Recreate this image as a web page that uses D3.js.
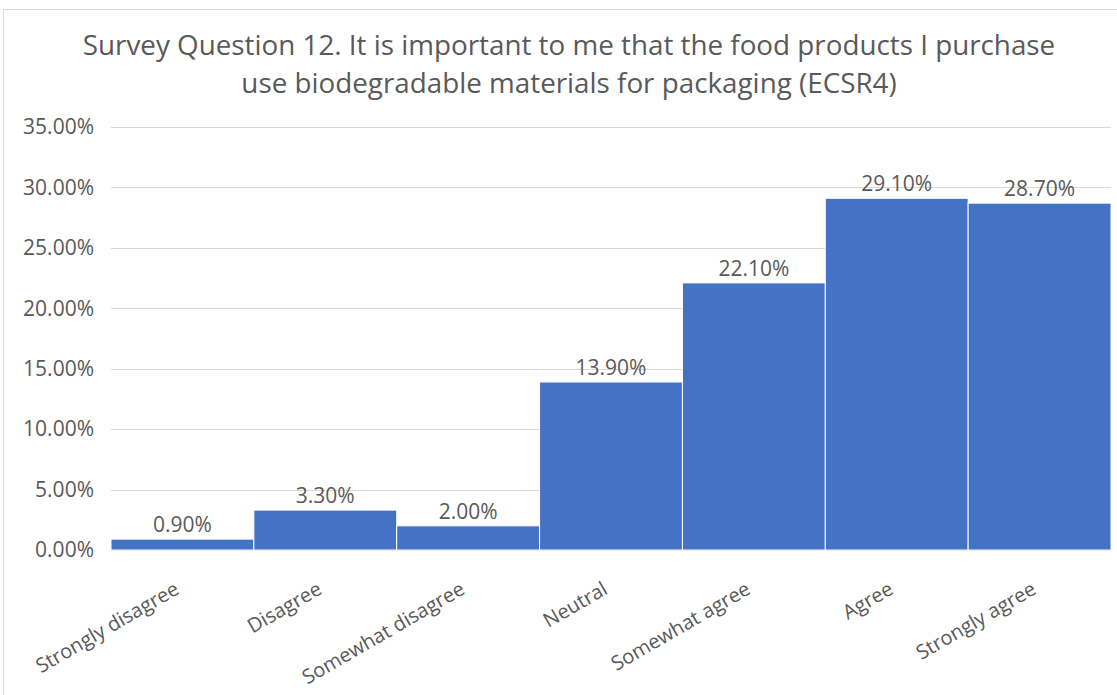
<!DOCTYPE html>
<html>
<head>
<meta charset="utf-8">
<script src="https://cdn.jsdelivr.net/npm/d3@7"></script>
<style>
  body { margin: 0; background: #fff; }
  svg { display: block; font-family: "Open Sans", sans-serif; }
</style>
</head>
<body>
<div class="chart"></div>
<script>
const categories = ["Strongly disagree", "Disagree", "Somewhat disagree", "Neutral", "Somewhat agree", "Agree", "Strongly agree"];
const values = [0.009, 0.033, 0.020, 0.139, 0.221, 0.291, 0.287];
const yTicks = [0, 0.05, 0.10, 0.15, 0.20, 0.25, 0.30, 0.35];
const titleLines = ["Survey Question 12. It is important to me that the food products I purchase",
                    "use biodegradable materials for packaging (ECSR4)"];

const width = 1117, height = 695;
const margin = {top: 127, right: 6, bottom: 145, left: 111};
const textColor = "#595959";
const fmt = d3.format(".2%");

const svg = d3.select(".chart").append("svg")
    .attr("width", width)
    .attr("height", height);

// chart frame
svg.append("rect")
    .attr("x", 3.5).attr("y", 9.5)
    .attr("width", width + 20).attr("height", height + 20)
    .attr("fill", "none")
    .attr("stroke", "#d9d9d9");

const x = d3.scaleBand()
    .domain(categories)
    .range([margin.left, width - margin.right])
    .padding(0);

const y = d3.scaleLinear()
    .domain([0, 0.35])
    .range([height - margin.bottom, margin.top]);

// title
svg.append("g").selectAll("text")
    .data(titleLines)
    .enter()
    .append("text")
    .attr("x", 569)
    .attr("y", (d, i) => 55 + i * 38)
    .attr("text-anchor", "middle")
    .style("font-size", "27.8px")
    .style("fill", textColor)
    .text(d => d);

// gridlines
svg.append("g").selectAll("line")
    .data(yTicks)
    .enter()
    .append("line")
    .attr("x1", margin.left).attr("x2", width - margin.right)
    .attr("y1", d => Math.round(y(d)) + 0.5).attr("y2", d => Math.round(y(d)) + 0.5)
    .attr("stroke", "#d9d9d9");

// y axis labels
const yAxis = svg.append("g")
    .attr("transform", `translate(${margin.left},0)`)
    .call(d3.axisLeft(y).tickValues(yTicks).tickFormat(fmt).tickSize(0).tickPadding(17));
yAxis.select(".domain").remove();
yAxis.selectAll("text")
    .style("font-size", "21px")
    .style("font-family", "'Open Sans', sans-serif")
    .style("fill", textColor);

// bars
svg.append("g").selectAll("rect")
    .data(values)
    .enter()
    .append("rect")
    .attr("x", (d, i) => x(categories[i]))
    .attr("y", d => y(d))
    .attr("width", x.bandwidth())
    .attr("height", d => y(0) - y(d))
    .attr("fill", "#4472c4")
    .attr("stroke", "#ffffff")
    .attr("stroke-width", 1);

// value labels
svg.append("g").selectAll("text")
    .data(values)
    .enter()
    .append("text")
    .attr("x", (d, i) => x(categories[i]) + x.bandwidth() / 2)
    .attr("y", d => y(d) - 7)
    .attr("text-anchor", "middle")
    .style("font-size", "21px")
    .style("fill", textColor)
    .text(d => fmt(d));

// category labels
svg.append("g").selectAll("text")
    .data(categories)
    .enter()
    .append("text")
    .attr("text-anchor", "end")
    .attr("transform", d => `translate(${x(d) + x.bandwidth() / 2 - 2}, ${y(0) + 43}) rotate(-30)`)
    .style("font-size", "20px")
    .style("fill", textColor)
    .text(d => d);
</script>
</body>
</html>
